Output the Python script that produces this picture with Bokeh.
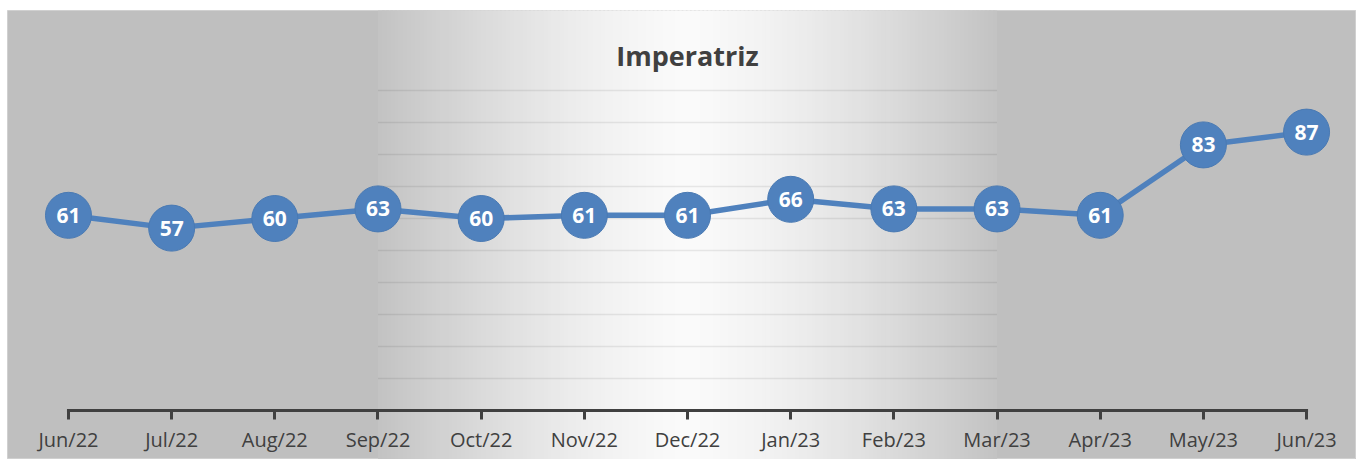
from bokeh.plotting import figure
from bokeh.models import FixedTicker, Range1d
from bokeh.core.properties import value
from bokeh.embed import file_html
from bokeh.resources import INLINE

months = ["Jun/22", "Jul/22", "Aug/22", "Sep/22", "Oct/22", "Nov/22", "Dec/22",
          "Jan/23", "Feb/23", "Mar/23", "Apr/23", "May/23", "Jun/23"]
values = [61, 57, 60, 63, 60, 61, 61, 66, 63, 63, 61, 83, 87]
title_text = "Imperatriz"
grid_levels = [10, 20, 30, 40, 50, 60, 70, 80, 90, 100]

xs = list(range(len(months)))

p = figure(width=1356, height=459, output_backend="svg", toolbar_location=None,
           x_range=Range1d(-0.591, 12.484), y_range=Range1d(-15.3, 125.0),
           min_border=0, min_border_left=7, min_border_top=10)
p.background_fill_color = "#bfbfbf"
p.border_fill_color = "white"
p.outline_line_color = "#d0d0d0"
p.xgrid.visible = False
p.ygrid.visible = False
p.yaxis.visible = False

# light central band (Sep/22 .. Mar/23) with a horizontal gradient
n = 150
band_l, band_r = 3.0, 9.0
w = (band_r - band_l) / n
lefts, rights, cols = [], [], []
for i in range(n):
    c = band_l + (i + 0.5) * w
    t = abs(c - 6.0) / 3.0
    g = int(round(250 - 56 * t ** 1.4))
    lefts.append(band_l + i * w)
    rights.append(band_l + (i + 1) * w + w * 0.6 if i < n - 1 else band_r)
    cols.append("#%02x%02x%02x" % (g, g, g))
p.quad(left=lefts, right=rights, bottom=-20, top=140, fill_color=cols, line_color=None)

# grid lines visible in the light band
p.segment(x0=[band_l] * len(grid_levels), x1=[band_r] * len(grid_levels),
          y0=grid_levels, y1=grid_levels, line_color="#000000", line_alpha=0.08, line_width=1.5)

# x axis at y=0 (line only spans first..last month)
ax = p.xaxis[0]
ax.fixed_location = 0
ax.ticker = FixedTicker(ticks=xs)
ax.major_label_overrides = {i: m for i, m in enumerate(months)}
ax.axis_line_color = None
ax.major_tick_line_color = "#404040"
ax.major_tick_line_width = 3
ax.major_tick_in = 0
ax.major_tick_out = 9
ax.minor_tick_line_color = None
ax.major_label_text_font = "Open Sans"
ax.major_label_text_font_size = "20px"
ax.major_label_text_color = "#404040"
ax.major_label_standoff = 6
p.segment(x0=[xs[0]], x1=[xs[-1]], y0=[0], y1=[0], line_color="#404040",
          line_width=3, line_cap="square")

p.line(xs, values, line_color="#4f81bd", line_width=5.5)
p.scatter(xs, values, size=46, fill_color="#4f81bd", line_color="#4a7ab3", line_width=1)
p.text(xs, values, text=[str(v) for v in values], text_align="center", text_baseline="middle",
       text_color="white", text_font=value("Open Sans"), text_font_style="bold",
       text_font_size="21px")

p.text([6], [111], text=[title_text], text_align="center", text_baseline="middle",
       text_color="#404040", text_font=value("Open Sans"), text_font_style="bold",
       text_font_size="27px")

open("out.html", "w").write(file_html(p, INLINE))
